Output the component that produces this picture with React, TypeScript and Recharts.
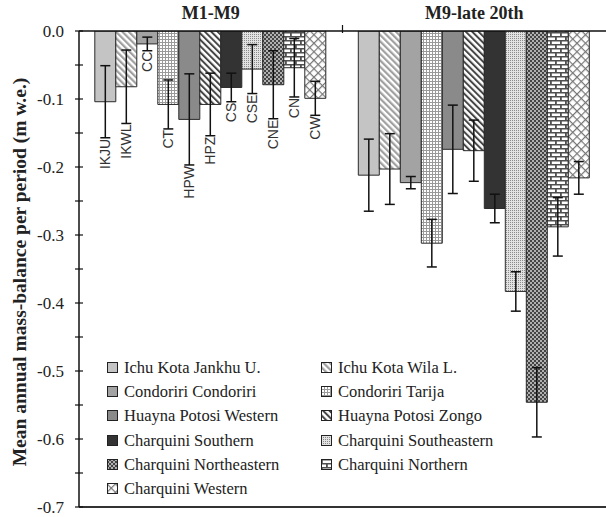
import React from 'react';
import { BarChart, Bar, XAxis, YAxis, ErrorBar, LabelList, ReferenceLine } from 'recharts';

const periods = ['M1-M9', 'M9-late 20th'];
const glacierNames = [
  'Ichu Kota Jankhu U.', 'Ichu Kota Wila L.', 'Condoriri Condoriri', 'Condoriri Tarija',
  'Huayna Potosi Western', 'Huayna Potosi Zongo', 'Charquini Southern', 'Charquini Southeastern',
  'Charquini Northeastern', 'Charquini Northern', 'Charquini Western',
];
const glacierCodes = ['IKJU', 'IKWL', 'CC', 'CT', 'HPW', 'HPZ', 'CS', 'CSE', 'CNE', 'CN', 'CW'];
const balanceM1M9 = [-0.104, -0.082, -0.019, -0.108, -0.130, -0.108, -0.083, -0.056, -0.079, -0.054, -0.099];
const errorM1M9 = [0.053, 0.054, 0.010, 0.036, 0.067, 0.046, 0.021, 0.036, 0.050, 0.043, 0.025];
const balanceM9Late = [-0.212, -0.203, -0.223, -0.312, -0.174, -0.176, -0.261, -0.383, -0.546, -0.288, -0.216];
const errorM9Late = [0.053, 0.052, 0.009, 0.035, 0.065, 0.045, 0.021, 0.029, 0.051, 0.043, 0.024];
const yTicks = [0, -0.05, -0.1, -0.15, -0.2, -0.25, -0.3, -0.35, -0.4, -0.45, -0.5, -0.55, -0.6, -0.65, -0.7];
const yTitle = 'Mean annual mass-balance per period (m w.e.)';

const fills = [
  '#c4c4c4', 'url(#pIKWL)', '#a3a3a3', 'url(#pCT)', '#8a8a8a', 'url(#pHPZ)',
  '#333333', 'url(#pCSE)', 'url(#pCNE)', 'url(#pCN)', 'url(#pCW)',
];

const seriesBalance = [balanceM1M9, balanceM9Late];
const seriesError = [errorM1M9, errorM9Late];
const data = periods.map((p, pi) => {
  const row: any = { period: p };
  glacierCodes.forEach((c, i) => {
    row[c] = seriesBalance[pi][i];
    row[c + '_err'] = seriesError[pi][i];
  });
  return row;
});

const W = 606;
const H = 517;
const LEFT = 79;
const RIGHT = 0;
const plotWidth = W - LEFT - RIGHT;

const serif = '"Liberation Serif", "Times New Roman", serif';
const sans = '"Liberation Sans", Arial, sans-serif';

const makeLabel = (code: string, err: number) => (props: any) => {
  const { index } = props;
  if (index !== 0) return null;
  const vb = props.viewBox || {};
  const x = Number(props.x ?? vb.x);
  const y = Number(props.y ?? vb.y);
  const width = Number(props.width ?? vb.width);
  const height = Number(props.height ?? vb.height);
  const value = Number(props.value);
  if (!value) return null;
  const bottom = Math.max(y, y + height);
  const ppu = Math.abs(height) / Math.abs(value);
  const ty = bottom + err * ppu + 1;
  const cx = x + width / 2;
  return (
    <text
      x={cx}
      y={ty}
      transform={`rotate(-90 ${cx} ${ty})`}
      textAnchor="end"
      dominantBaseline="central"
      fontFamily={sans}
      fontSize={14}
      fill="#333"
    >
      {code}
    </text>
  );
};

const YTick = (props: any) => {
  const { x, y, payload } = props;
  const v = payload.value;
  const major = Math.abs(Math.round(v * 10) - v * 10) < 1e-6;
  return (
    <g>
      <line x1={x - 4} x2={x + 4} y1={y} y2={y} stroke="#111" strokeWidth={1.2} />
      {major && (
        <text x={x - 15} y={y} textAnchor="end" dominantBaseline="central" fontFamily={serif} fontSize={17} fill="#222">
          {v.toFixed(1)}
        </text>
      )}
    </g>
  );
};

const XTick = (props: any) => {
  const { x, y, payload, index } = props;
  const half = plotWidth / (2 * periods.length);
  return (
    <g>
      <text x={x} y={y - 10} textAnchor="middle" fontFamily={serif} fontWeight="bold" fontSize={18} fill="#222">
        {payload.value}
      </text>
      {index < periods.length - 1 && (
        <line x1={x + half} x2={x + half} y1={y - 4} y2={y + 4} stroke="#111" strokeWidth={1.2} />
      )}
    </g>
  );
};

const YTitle = (props: any) => {
  const vb = props.viewBox;
  const cx = 19;
  const cy = vb.y + vb.height / 2 + 3;
  return (
    <text
      x={cx}
      y={cy}
      transform={`rotate(-90 ${cx} ${cy})`}
      textAnchor="middle"
      dominantBaseline="central"
      fontFamily={serif}
      fontWeight="bold"
      fontSize={19.5}
      fill="#222"
    >
      {yTitle}
    </text>
  );
};

export default function App() {
  return (
    <div style={{ position: 'absolute', left: 0, top: 0, width: W, height: H, background: '#fff' }}>
      <BarChart
        width={W}
        height={H}
        data={data}
        margin={{ top: 0, right: RIGHT, bottom: 10, left: 0 }}
        barCategoryGap="6%"
        barGap={0}
      >
        <defs>
          <pattern id="pIKWL" patternUnits="userSpaceOnUse" width={4.5} height={4.5} patternTransform="rotate(-45)">
            <rect width={4.5} height={4.5} fill="#ffffff" />
            <rect width={2.2} height={4.5} fill="#a0a0a0" />
          </pattern>
          <pattern id="pHPZ" patternUnits="userSpaceOnUse" width={4.5} height={4.5} patternTransform="rotate(-45)">
            <rect width={4.5} height={4.5} fill="#ffffff" />
            <rect width={2} height={4.5} fill="#454545" />
          </pattern>
          <pattern id="pCT" patternUnits="userSpaceOnUse" width={3} height={3}>
            <rect width={3} height={3} fill="#ffffff" />
            <rect width={3} height={1} fill="#9a9a9a" />
            <rect width={1} height={3} fill="#9a9a9a" />
          </pattern>
          <pattern id="pCSE" patternUnits="userSpaceOnUse" width={2} height={2}>
            <rect width={2} height={2} fill="#e2e2e2" />
            <rect width={1} height={1} fill="#8a8a8a" />
          </pattern>
          <pattern id="pCNE" patternUnits="userSpaceOnUse" width={4} height={4}>
            <rect width={4} height={4} fill="#444444" />
            <rect width={2} height={2} fill="#b0b0b0" />
            <rect x={2} y={2} width={2} height={2} fill="#b0b0b0" />
          </pattern>
          <pattern id="pCN" patternUnits="userSpaceOnUse" width={10} height={8}>
            <rect width={10} height={8} fill="#ffffff" />
            <rect width={10} height={1.5} fill="#505050" />
            <rect y={4} width={10} height={1.5} fill="#505050" />
            <rect x={0} y={0} width={1.8} height={4} fill="#505050" />
            <rect x={5} y={4} width={1.8} height={4} fill="#505050" />
          </pattern>
          <pattern id="pCW" patternUnits="userSpaceOnUse" width={6} height={6} patternTransform="rotate(45)">
            <rect width={6} height={6} fill="#ffffff" />
            <rect width={1.2} height={6} fill="#777777" />
            <rect width={6} height={1.2} fill="#777777" />
          </pattern>
        </defs>
        <XAxis
          dataKey="period"
          orientation="top"
          height={31}
          axisLine={{ stroke: '#111', strokeWidth: 1.5 }}
          tickLine={false}
          tickSize={0}
          tick={<XTick />}
          interval={0}
        />
        <YAxis
          width={LEFT}
          domain={[-0.7, 0]}
          ticks={yTicks}
          type="number"
          allowDataOverflow
          axisLine={{ stroke: '#111', strokeWidth: 1.5 }}
          tickLine={false}
          tickSize={0}
          tickMargin={0}
          tick={<YTick />}
          interval={0}
          label={<YTitle />}
        />
        <ReferenceLine y={-0.7} stroke="#333" strokeWidth={2} />
        {glacierCodes.map((c, i) => (
          <Bar
            key={c}
            dataKey={c}
            name={glacierNames[i]}
            fill={fills[i]}
            stroke="#2a2a2a"
            strokeWidth={1}
            isAnimationActive={false}
          >
            <ErrorBar dataKey={c + '_err'} width={5} stroke="#111" strokeWidth={1.5} direction="y" />
            <LabelList dataKey={c} content={makeLabel(c, errorM1M9[i])} />
          </Bar>
        ))}
      </BarChart>
      <div
        style={{
          position: 'absolute',
          left: 107,
          top: 358,
          display: 'grid',
          gridTemplateColumns: '214px 240px',
          rowGap: 4.2,
          fontFamily: serif,
          fontSize: 16.5,
          color: '#222',
        }}
      >
        {glacierNames.map((n, i) => (
          <div key={n} style={{ display: 'flex', alignItems: 'center', height: 20, whiteSpace: 'nowrap' }}>
            <svg width={12} height={12} style={{ display: 'block' }}>
              <rect x={0.5} y={0.5} width={10} height={10} fill={fills[i]} stroke="#222" strokeWidth={1} />
            </svg>
            <span style={{ marginLeft: 5 }}>{n}</span>
          </div>
        ))}
      </div>
    </div>
  );
}
